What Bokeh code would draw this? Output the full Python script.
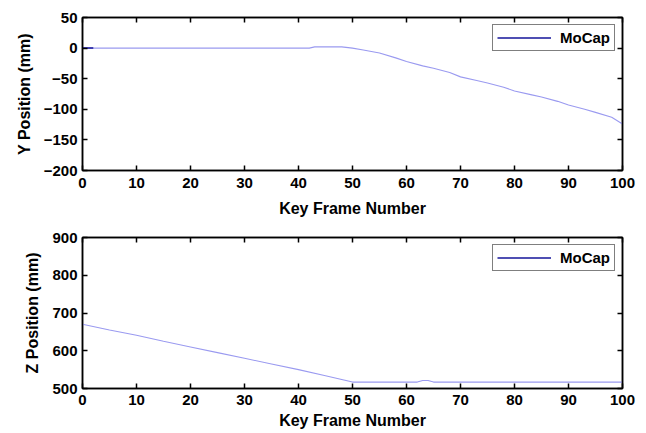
from bokeh.plotting import figure
from bokeh.layouts import column
from bokeh.models import LinearAxis, FixedTicker, Range1d, Legend, LegendItem, ColumnDataSource
from bokeh.embed import file_html
from bokeh.resources import INLINE

# ---- data ----
frames_y = [0, 2, 10, 20, 30, 40, 42, 43, 48, 50, 52, 55, 58, 60, 63, 65, 68, 70, 73, 75, 78, 80, 83, 85, 88, 90, 93, 95, 98, 100]
y_pos = [0, 0, 0, 0, 0, 0, 0, 2, 2, 0, -3, -8, -16, -22, -29, -33, -40, -47, -53, -57, -64, -70, -76, -80, -87, -93, -100, -105, -113, -124]

frames_z = [0, 5, 10, 15, 20, 25, 30, 35, 40, 45, 48, 50, 55, 60, 62, 63, 64, 65, 70, 80, 90, 100]
z_pos = [670, 655, 641, 625, 610, 595, 580, 565, 550, 534, 524, 517, 517, 517, 517, 521, 521, 517, 517, 517, 517, 517]

x_ticks = [0, 10, 20, 30, 40, 50, 60, 70, 80, 90, 100]
y_ticks = [-200, -150, -100, -50, 0, 50]
z_ticks = [500, 600, 700, 800, 900]

series_name = "MoCap"
x_label = "Key Frame Number"
y_label = "Y Position (mm)"
z_label = "Z Position (mm)"

LINE_COLOR = "#9a9af0"
LEGEND_COLOR = "#14149a"
FONT = "Liberation Sans"


def label_map(ticks):
    return {t: (str(t).replace("-", "\u2212")) for t in ticks}


def make_fig(xs, ys, yticks, ylabel, ymin, ymax, border_top, border_bottom, frame_h,
             start_mark, x_std, x_lab_std):
    p = figure(frame_width=540, frame_height=frame_h, output_backend="svg",
               toolbar_location=None, x_range=Range1d(0, 100), y_range=Range1d(ymin, ymax),
               min_border_left=82, min_border_right=16, min_border_top=border_top,
               min_border_bottom=border_bottom, x_axis_label=x_label, y_axis_label=ylabel)
    p.xgrid.visible = False
    p.ygrid.visible = False
    p.outline_line_color = "black"
    p.outline_line_width = 1.5
    p.outline_line_alpha = 1
    p.xaxis.ticker = FixedTicker(ticks=x_ticks)
    p.yaxis.ticker = FixedTicker(ticks=yticks)
    p.yaxis.major_label_overrides = label_map(yticks)
    for ax in [p.xaxis[0], p.yaxis[0]]:
        ax.major_tick_in = 5
        ax.major_tick_out = 0
        ax.minor_tick_in = 0
        ax.minor_tick_out = 0
        ax.axis_line_width = 1.5
        ax.major_tick_line_width = 1.5
        ax.major_label_text_font = FONT
        ax.major_label_text_font_size = "15px"
        ax.major_label_text_font_style = "bold"
        ax.major_label_text_color = "black"
        ax.axis_label_text_font = FONT
        ax.axis_label_text_font_size = "16px"
        ax.axis_label_text_font_style = "bold"
        ax.axis_label_text_color = "black"
    p.xaxis.major_label_standoff = x_std
    p.xaxis.axis_label_standoff = x_lab_std
    p.yaxis.major_label_standoff = 5
    p.yaxis.axis_label_standoff = 8
    # ticks on top and right, without labels
    top = LinearAxis(ticker=FixedTicker(ticks=x_ticks), major_tick_in=5, major_tick_out=0,
                     minor_tick_in=0, minor_tick_out=0,
                     major_label_overrides={t: "" for t in x_ticks},
                     axis_line_width=1.5, major_tick_line_width=1.5, major_label_standoff=0)
    right = LinearAxis(ticker=FixedTicker(ticks=yticks), major_tick_in=5, major_tick_out=0,
                       minor_tick_in=0, minor_tick_out=0,
                       major_label_overrides={t: "" for t in yticks},
                       axis_line_width=1.5, major_tick_line_width=1.5, major_label_standoff=0)
    p.add_layout(top, "above")
    p.add_layout(right, "right")

    p.line(xs, ys, line_color=LINE_COLOR, line_width=1.1)
    if start_mark:
        p.line(xs[:2], ys[:2], line_color=LEGEND_COLOR, line_width=1.5)
    # legend key: a one-point line of the series (draws nothing in the plot, only the key)
    key_src = ColumnDataSource(data=dict(x=xs[:1], y=ys[:1]))
    key = p.line("x", "y", source=key_src, line_color=LEGEND_COLOR, line_width=1.5)
    legend = Legend(items=[LegendItem(label=series_name, renderers=[key])],
                    location="top_right", border_line_color="black", border_line_width=1.5,
                    label_text_font=FONT, label_text_font_size="15px",
                    label_text_color="black", label_text_font_style="bold",
                    glyph_width=54, glyph_height=15, label_standoff=9, padding=4, margin=7,
                    spacing=0, label_height=15)
    p.add_layout(legend)
    return p


p1 = make_fig(frames_y, y_pos, y_ticks, y_label, -200, 50, 17, 52, 153, True, 7, 9)
p2 = make_fig(frames_z, z_pos, z_ticks, z_label, 500, 900, 15, 42, 151, False, 6, 4)

layout = column(p1, p2, spacing=0)
open("out.html", "w").write(file_html(layout, INLINE))
